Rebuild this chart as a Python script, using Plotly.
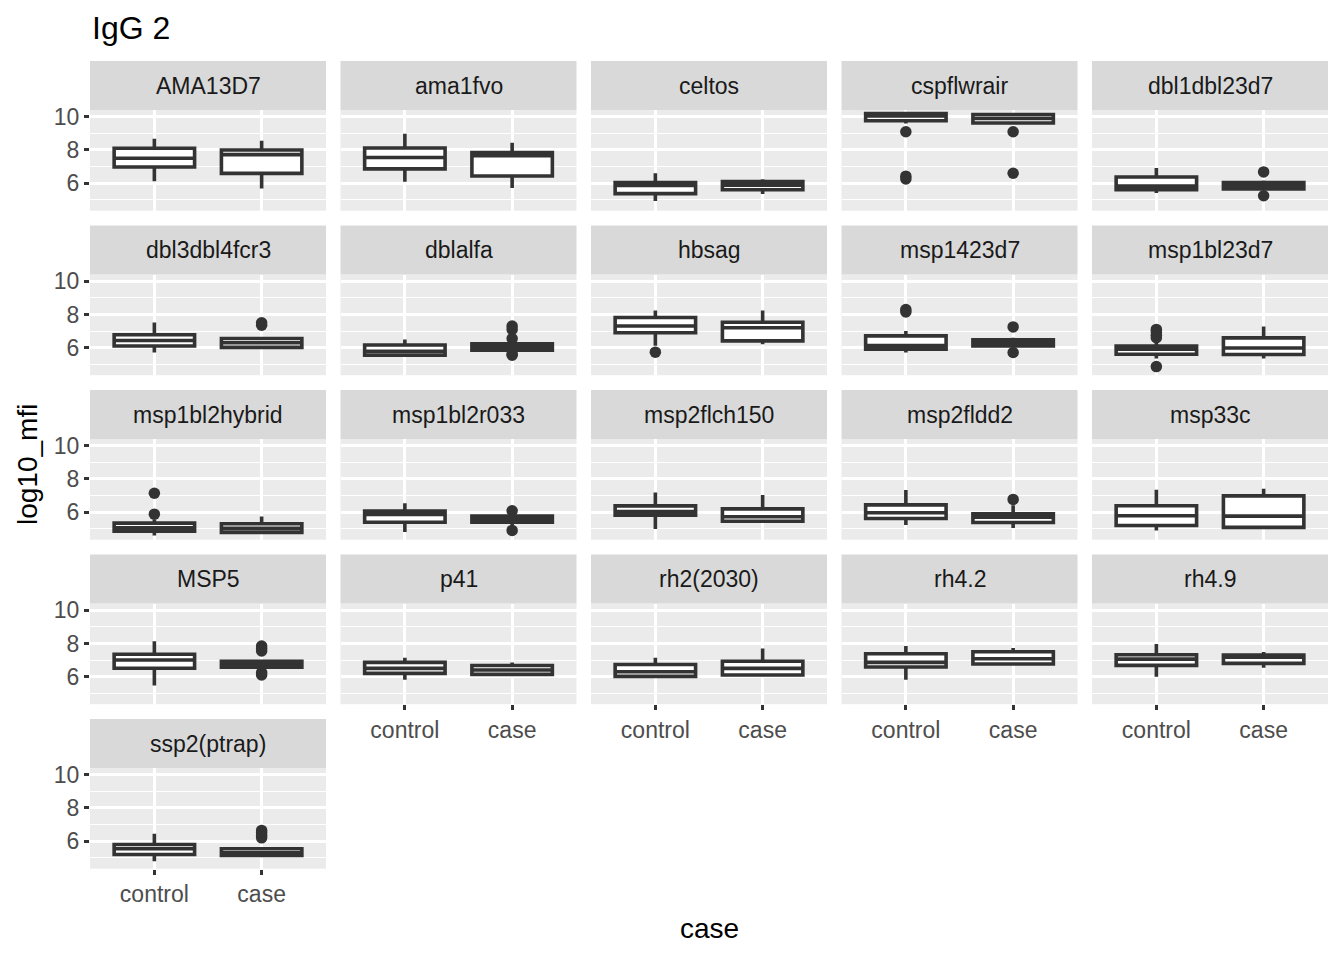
import plotly.graph_objects as go

# ---------------- data ----------------
antigens = ["AMA13D7", "ama1fvo", "celtos", "cspflwrair", "dbl1dbl23d7",
            "dbl3dbl4fcr3", "dblalfa", "hbsag", "msp1423d7", "msp1bl23d7",
            "msp1bl2hybrid", "msp1bl2r033", "msp2flch150", "msp2fldd2", "msp33c",
            "MSP5", "p41", "rh2(2030)", "rh4.2", "rh4.9",
            "ssp2(ptrap)"]
groups = ["control", "case"]

# control group box statistics
ctrl_lower  = [6.12, 6.08, 4.92, 9.60, 5.41, 5.71, 5.50, 6.12, 5.71, 5.35, 4.60, 4.80, 4.99, 5.23, 4.90, 5.47, 5.82, 6.00, 5.82, 5.99, 4.79]
ctrl_q1     = [6.97, 6.86, 5.37, 9.76, 5.60, 6.10, 5.55, 6.90, 5.90, 5.60, 4.85, 5.39, 5.82, 5.62, 5.20, 6.51, 6.20, 6.02, 6.58, 6.68, 5.20]
ctrl_median = [7.50, 7.55, 5.86, 10.05, 5.82, 6.43, 5.78, 7.31, 6.12, 5.90, 5.05, 5.86, 6.04, 5.96, 5.78, 7.00, 6.50, 6.30, 6.86, 7.06, 5.54]
ctrl_q3     = [8.10, 8.12, 6.04, 10.20, 6.37, 6.78, 6.16, 7.82, 6.71, 6.10, 5.34, 6.06, 6.38, 6.44, 6.39, 7.35, 6.86, 6.73, 7.38, 7.32, 5.80]
ctrl_upper  = [8.67, 8.98, 6.60, 10.20, 6.92, 7.51, 6.49, 8.24, 7.00, 6.40, 5.55, 6.53, 7.19, 7.33, 7.35, 8.14, 7.14, 7.14, 7.85, 7.97, 6.44]
ctrl_outliers = [[], [], [], [9.1, 6.25, 6.42], [], [], [], [5.73], [8.3, 8.15], [7.1, 6.95, 6.75, 6.6, 4.86],
                 [7.14, 5.88], [], [], [], [], [], [], [], [], [], []]

# case group box statistics
case_lower  = [5.68, 5.71, 5.35, 9.60, 5.55, 6.00, 5.75, 6.20, 6.05, 5.35, 4.75, 5.20, 5.45, 5.05, 5.04, 6.50, 6.10, 6.00, 6.74, 6.53, 5.10]
case_q1     = [6.59, 6.43, 5.60, 9.63, 5.65, 6.02, 5.84, 6.41, 6.10, 5.59, 4.78, 5.39, 5.45, 5.38, 5.08, 6.57, 6.14, 6.10, 6.76, 6.80, 5.14]
case_median = [7.72, 7.65, 5.88, 9.90, 5.85, 6.30, 6.05, 7.20, 6.25, 5.98, 5.02, 5.60, 5.72, 5.70, 5.76, 6.75, 6.40, 6.50, 7.08, 7.18, 5.30]
case_q3     = [8.00, 7.85, 6.10, 10.14, 6.04, 6.55, 6.24, 7.53, 6.47, 6.59, 5.30, 5.76, 6.20, 5.90, 6.98, 6.92, 6.67, 6.93, 7.50, 7.30, 5.54]
case_upper  = [8.55, 8.43, 6.24, 10.14, 6.16, 6.65, 6.40, 8.24, 6.60, 7.27, 5.74, 5.95, 7.03, 6.42, 7.41, 7.00, 6.86, 7.69, 7.73, 7.48, 5.60]
case_outliers = [[], [], [], [9.1, 6.6], [6.68, 5.24], [7.35, 7.5], [7.3, 7.1, 6.55, 5.62, 5.55], [], [7.25, 5.71], [],
                 [], [6.08, 4.9], [], [6.77], [], [7.85, 7.7, 7.55, 6.25, 6.1], [], [], [], [], [6.65, 6.5, 6.35, 6.2]]

y_ticks = [6, 8, 10]
y_minor = [5, 7, 9]

# ---------------- layout geometry ----------------
W, H = 1344, 960
NCOL = 5
PANEL_W = 236.0
COL_STEP = 250.5
LEFT0 = 90.0
STRIP_TOP0 = 61.0
STRIP_H = 49.0
PLOT_H = 100.7
ROW_STEP = 164.5
Y_RANGE = [4.34, 10.41]

FONT = "Liberation Sans, Arial, sans-serif"
DARK = "#333333"


def px(x):
    return x / W


def py(y):
    return 1 - y / H


fig = go.Figure()
layout = dict(
    width=W, height=H,
    margin=dict(l=0, r=0, t=0, b=0, pad=0, autoexpand=False),
    paper_bgcolor="white",
    plot_bgcolor="#ebebeb",
    showlegend=False,
    font=dict(family=FONT, color="#4d4d4d"),
    shapes=[], annotations=[],
)

n = len(antigens)
for i, name in enumerate(antigens):
    r, c = divmod(i, NCOL)
    k = i + 1
    ax = "" if k == 1 else str(k)
    x0 = LEFT0 + c * COL_STEP
    x1 = x0 + PANEL_W
    st = STRIP_TOP0 + r * ROW_STEP
    pt = st + STRIP_H
    pb = pt + PLOT_H
    bottom = (i + NCOL) >= n
    left = c == 0

    layout["xaxis" + ax] = dict(
        domain=[px(x0), px(x1)], anchor="y" + ax,
        type="category", categoryorder="array", categoryarray=groups,
        range=[-0.6, 1.6], automargin=False,
        showgrid=True, gridcolor="white", gridwidth=2.8,
        zeroline=False, showline=False,
        ticks="outside" if bottom else "", ticklen=5, tickwidth=2.8, tickcolor=DARK,
        showticklabels=bottom,
        tickfont=dict(size=23, color="#4d4d4d", family=FONT),
        fixedrange=True,
    )
    layout["yaxis" + ax] = dict(
        domain=[py(pb), py(pt)], anchor="x" + ax,
        range=Y_RANGE, tickvals=y_ticks, ticktext=[str(v) for v in y_ticks],
        automargin=False,
        showgrid=True, gridcolor="white", gridwidth=2.8,
        minor=dict(tickvals=y_minor, showgrid=True, gridcolor="white", gridwidth=1.4),
        zeroline=False, showline=False,
        ticks="outside" if left else "", ticklen=5, tickwidth=2.8, tickcolor=DARK,
        showticklabels=left,
        tickfont=dict(size=23, color="#4d4d4d", family=FONT),
        fixedrange=True,
    )

    layout["shapes"].append(dict(
        type="rect", xref="paper", yref="paper",
        x0=px(x0), x1=px(x1), y0=py(pt), y1=py(st),
        fillcolor="#d9d9d9", line=dict(width=0), layer="below",
    ))
    layout["annotations"].append(dict(
        text=name, xref="paper", yref="paper",
        x=px((x0 + x1) / 2), y=py(st + STRIP_H / 2),
        xanchor="center", yanchor="middle", showarrow=False,
        font=dict(size=23, color="#1a1a1a", family=FONT),
    ))

    fig.add_trace(go.Box(
        x=groups,
        q1=[ctrl_q1[i], case_q1[i]],
        median=[ctrl_median[i], case_median[i]],
        q3=[ctrl_q3[i], case_q3[i]],
        lowerfence=[ctrl_lower[i], case_lower[i]],
        upperfence=[ctrl_upper[i], case_upper[i]],
        width=0.75, whiskerwidth=0,
        fillcolor="white", line=dict(color=DARK, width=3.6),
        boxpoints=False, hoverinfo="skip",
        xaxis="x" + ax, yaxis="y" + ax,
    ))
    ox = ["control"] * len(ctrl_outliers[i]) + ["case"] * len(case_outliers[i])
    oy = ctrl_outliers[i] + case_outliers[i]
    if oy:
        fig.add_trace(go.Scatter(
            x=ox, y=oy, mode="markers",
            marker=dict(size=11.5, color=DARK, line=dict(width=0)),
            hoverinfo="skip", xaxis="x" + ax, yaxis="y" + ax, cliponaxis=False,
        ))

layout["annotations"].append(dict(
    text="IgG 2", xref="paper", yref="paper", x=px(90), y=py(28),
    xanchor="left", yanchor="middle", showarrow=False,
    font=dict(size=32, color="black", family=FONT),
))
layout["annotations"].append(dict(
    text="case", xref="paper", yref="paper", x=px(709), y=py(928),
    xanchor="center", yanchor="middle", showarrow=False,
    font=dict(size=28, color="black", family=FONT),
))
layout["annotations"].append(dict(
    text="log10_mfi", xref="paper", yref="paper", x=px(27), y=py(465),
    xanchor="center", yanchor="middle", showarrow=False, textangle=-90,
    font=dict(size=28, color="black", family=FONT),
))

fig.update_layout(**layout)
fig.write_html("out.html")
